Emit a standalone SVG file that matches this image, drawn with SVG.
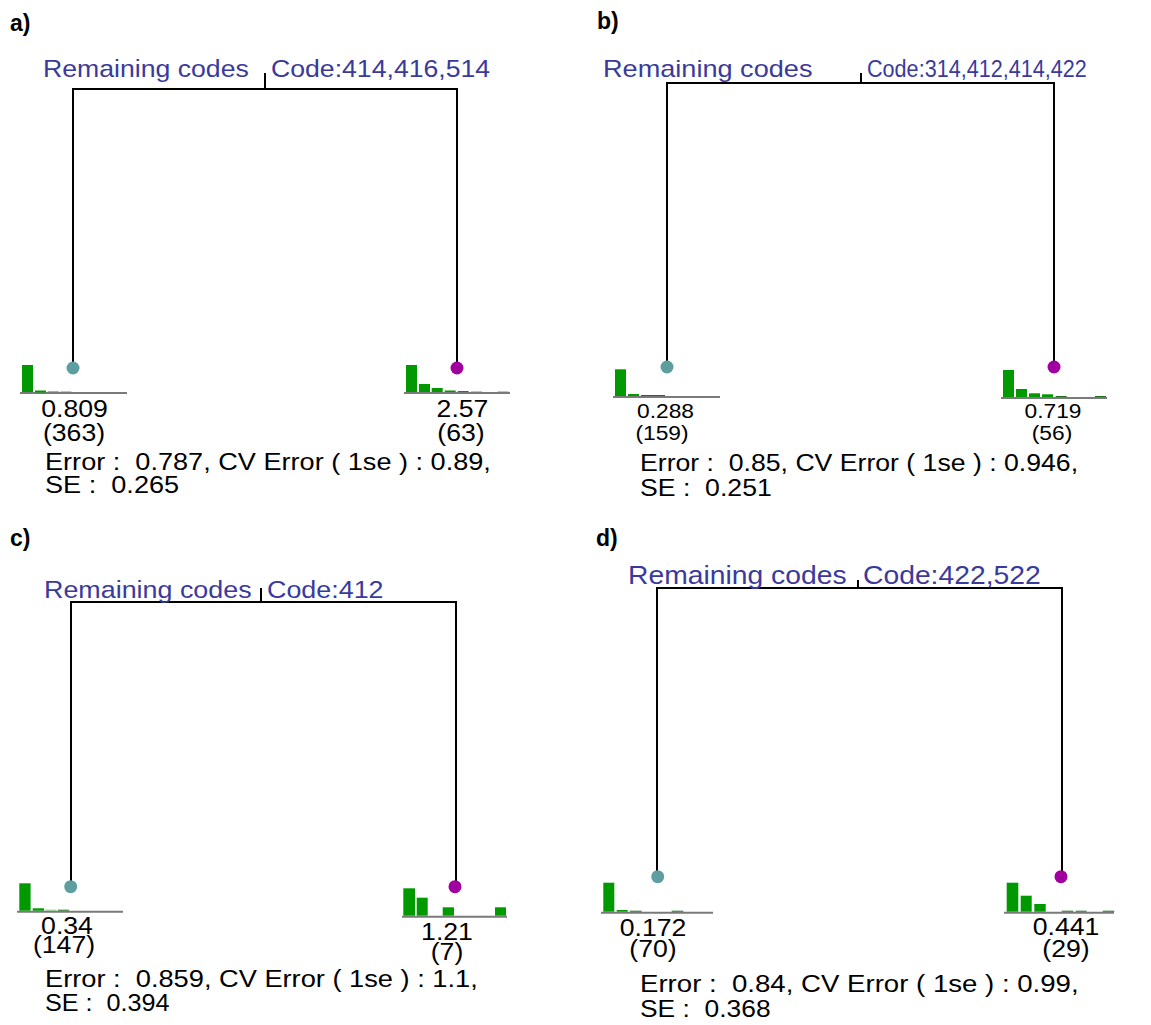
<svg xmlns="http://www.w3.org/2000/svg" width="1151" height="1025" viewBox="0 0 1151 1025">
  <style>
    .lbl { font-family: "Liberation Sans", Arial, sans-serif; font-size: 23px; font-weight: bold; fill: #000; }
    .split { font-family: "Liberation Sans", Arial, sans-serif; font-size: 24px; fill: #3a3a9c; }
    .split-lg { font-family: "Liberation Sans", Arial, sans-serif; font-size: 25.5px; fill: #3a3a9c; }
    .num { font-family: "Liberation Sans", Arial, sans-serif; font-size: 24px; fill: #000; text-anchor: middle; }
    .nums { font-family: "Liberation Sans", Arial, sans-serif; font-size: 20.5px; fill: #000; text-anchor: middle; }
    .err { font-family: "Liberation Sans", Arial, sans-serif; font-size: 24px; fill: #000; white-space: pre; }
    .edge { stroke: #000; stroke-width: 2; fill: none; }
    .axis { stroke: #7a7a7a; stroke-width: 2; }
    .bar { fill: #009900; }
    .bar-thin { fill: #80c880; }
    .bar-dark { fill: #1f6e1f; }
    .leaf-l { fill: #5f9ea0; }
    .leaf-r { fill: #a000a0; }
  </style>

  <!-- panel labels -->
  <text class="lbl" x="10" y="31">a)</text>
  <text class="lbl" x="597" y="29">b)</text>
  <text class="lbl" x="10" y="546">c)</text>
  <text class="lbl" x="596" y="546">d)</text>

  <!-- tree edges -->
  <g id="connectors">
    <path class="edge" d="M265,73 V89 M73,368 V89 H457 V368"/>
    <path class="edge" d="M861,73 V83 M667,367 V83 H1054 V367"/>
    <path class="edge" d="M261,588 V602 M71,886 V602 H456 V886"/>
    <path class="edge" d="M858,580 V588 M657,876 V588 H1062 V876"/>
  </g>

  <!-- panel a -->
  <g id="split-a">
    <text class="split" transform="translate(43,77) scale(1.11,1)">Remaining codes</text>
    <text class="split" transform="translate(271,77) scale(1.11,1)">Code:414,416,514</text>
  </g>
  <g id="leaf-a-left">
    <line class="axis" x1="20" y1="393" x2="127" y2="393"/>
    <rect class="bar" x="22" y="365" width="11" height="27"/>
    <rect class="bar" x="35" y="390.5" width="11" height="2"/>
    <rect class="bar-thin" x="47.7" y="391" width="11" height="1"/>
    <rect class="bar-thin" x="60.4" y="391.3" width="11" height="0.7"/>
    <circle class="leaf-l" cx="73" cy="368" r="6.5"/>
    <text class="num" transform="translate(74.5,417) scale(1.11,1)">0.809</text>
    <text class="num" transform="translate(74,441) scale(1.11,1)">(363)</text>
  </g>
  <g id="leaf-a-right">
    <line class="axis" x1="404" y1="393" x2="510" y2="393"/>
    <rect class="bar" x="406" y="365" width="11" height="27"/>
    <rect class="bar" x="419" y="384" width="11" height="8"/>
    <rect class="bar" x="431.7" y="388" width="11" height="4"/>
    <rect class="bar" x="444.7" y="390.5" width="11" height="1.5"/>
    <rect class="bar" x="457.7" y="391" width="11" height="1"/>
    <rect class="bar-thin" x="471" y="391.3" width="11" height="0.7"/>
    <rect class="bar-thin" x="497.7" y="391.3" width="11" height="0.7"/>
    <circle class="leaf-r" cx="457" cy="368" r="6.5"/>
    <text class="num" transform="translate(462.5,417) scale(1.11,1)">2.57</text>
    <text class="num" transform="translate(461,441) scale(1.11,1)">(63)</text>
  </g>
  <g id="stats-a">
    <text class="err" xml:space="preserve" transform="translate(45,470) scale(1.13,1)">Error :  0.787, CV Error ( 1se ) : 0.89,</text>
    <text class="err" xml:space="preserve" transform="translate(45,493) scale(1.13,1)">SE :  0.265</text>
  </g>

  <!-- panel b -->
  <g id="split-b">
    <text class="split" transform="translate(603,77) scale(1.13,1)">Remaining codes</text>
    <text class="split" transform="translate(867,77) scale(0.9,1)">Code:314,412,414,422</text>
  </g>
  <g id="leaf-b-left">
    <line class="axis" x1="613" y1="397" x2="720" y2="397"/>
    <rect class="bar" x="615" y="369.3" width="11" height="26.7"/>
    <rect class="bar" x="628" y="394" width="11" height="2"/>
    <rect class="bar-dark" x="641" y="395" width="12" height="1"/>
    <rect class="bar-dark" x="653" y="395" width="12" height="1"/>
    <circle class="leaf-l" cx="667" cy="367" r="6.5"/>
    <text class="nums" transform="translate(665.5,418) scale(1.11,1)">0.288</text>
    <text class="nums" transform="translate(662,440) scale(1.11,1)">(159)</text>
  </g>
  <g id="leaf-b-right">
    <line class="axis" x1="1001" y1="398" x2="1107" y2="398"/>
    <rect class="bar" x="1003" y="370" width="11" height="27"/>
    <rect class="bar" x="1016" y="389" width="11" height="8"/>
    <rect class="bar" x="1029" y="393.3" width="11" height="3.7"/>
    <rect class="bar" x="1042" y="394.3" width="11" height="2.7"/>
    <rect class="bar-dark" x="1055.7" y="396" width="11" height="1"/>
    <rect class="bar-dark" x="1095" y="396" width="11" height="1"/>
    <circle class="leaf-r" cx="1054" cy="367" r="6.5"/>
    <text class="nums" transform="translate(1053,418) scale(1.11,1)">0.719</text>
    <text class="nums" transform="translate(1052,440) scale(1.11,1)">(56)</text>
  </g>
  <g id="stats-b">
    <text class="err" xml:space="preserve" transform="translate(640,471) scale(1.11,1)">Error :  0.85, CV Error ( 1se ) : 0.946,</text>
    <text class="err" xml:space="preserve" transform="translate(640,496) scale(1.11,1)">SE :  0.251</text>
  </g>

  <!-- panel c -->
  <g id="split-c">
    <text class="split" transform="translate(44,598) scale(1.12,1)">Remaining codes</text>
    <text class="split" transform="translate(267,598) scale(1.12,1)">Code:412</text>
  </g>
  <g id="leaf-c-left">
    <line class="axis" x1="17" y1="911.7" x2="123" y2="911.7"/>
    <rect class="bar" x="19.3" y="883.3" width="11.3" height="27.4"/>
    <rect class="bar" x="32.7" y="908.3" width="11.3" height="2.4"/>
    <rect class="bar-thin" x="45" y="909.7" width="11.5" height="1"/>
    <rect class="bar-dark" x="58" y="909.7" width="11" height="1"/>
    <circle class="leaf-l" cx="70.7" cy="886.7" r="6.5"/>
    <text class="num" transform="translate(67,934) scale(1.11,1)">0.34</text>
    <text class="num" transform="translate(64,953) scale(1.11,1)">(147)</text>
  </g>
  <g id="leaf-c-right">
    <line class="axis" x1="402" y1="916.7" x2="507" y2="916.7"/>
    <rect class="bar" x="403.3" y="888.3" width="11.7" height="27.4"/>
    <rect class="bar" x="416.7" y="897.7" width="11" height="18"/>
    <rect class="bar" x="442.7" y="907.3" width="11.3" height="8.4"/>
    <rect class="bar" x="495" y="907.3" width="11" height="8.4"/>
    <circle class="leaf-r" cx="455" cy="886.7" r="6.5"/>
    <text class="num" transform="translate(447,940) scale(1.11,1)">1.21</text>
    <text class="num" transform="translate(447,960) scale(1.11,1)">(7)</text>
  </g>
  <g id="stats-c">
    <text class="err" xml:space="preserve" transform="translate(45,987) scale(1.135,1)">Error :  0.859, CV Error ( 1se ) : 1.1,</text>
    <text class="err" xml:space="preserve" transform="translate(45,1011) scale(1.05,1)">SE :  0.394</text>
  </g>

  <!-- panel d -->
  <g id="split-d">
    <text class="split-lg" transform="translate(628,584) scale(1.11,1)">Remaining codes</text>
    <text class="split-lg" transform="translate(863,584) scale(1.11,1)">Code:422,522</text>
  </g>
  <g id="leaf-d-left">
    <line class="axis" x1="601" y1="912.7" x2="713" y2="912.7"/>
    <rect class="bar" x="603.3" y="882.7" width="11" height="29"/>
    <rect class="bar" x="616.7" y="910" width="11" height="1.7"/>
    <rect class="bar-dark" x="630" y="910.7" width="11.7" height="1"/>
    <rect class="bar-dark" x="671.7" y="910.7" width="11.6" height="1"/>
    <circle class="leaf-l" cx="657.7" cy="876.7" r="6.5"/>
    <text class="num" transform="translate(653,936) scale(1.11,1)">0.172</text>
    <text class="num" transform="translate(653,957) scale(1.11,1)">(70)</text>
  </g>
  <g id="leaf-d-right">
    <line class="axis" x1="1004" y1="912.7" x2="1114" y2="912.7"/>
    <rect class="bar" x="1006.7" y="882.7" width="11.6" height="29"/>
    <rect class="bar" x="1020.7" y="895.7" width="11" height="16"/>
    <rect class="bar" x="1034.3" y="904" width="11.4" height="7.7"/>
    <rect class="bar-dark" x="1061.7" y="910.7" width="11.6" height="1"/>
    <rect class="bar-dark" x="1075.7" y="910.7" width="11" height="1"/>
    <rect class="bar-dark" x="1102.7" y="910.7" width="11.6" height="1"/>
    <circle class="leaf-r" cx="1061" cy="876.7" r="6.5"/>
    <text class="num" transform="translate(1066,935) scale(1.11,1)">0.441</text>
    <text class="num" transform="translate(1066,957) scale(1.11,1)">(29)</text>
  </g>
  <g id="stats-d">
    <text class="err" xml:space="preserve" transform="translate(640,992) scale(1.15,1)">Error :  0.84, CV Error ( 1se ) : 0.99,</text>
    <text class="err" xml:space="preserve" transform="translate(640,1017) scale(1.1,1)">SE :  0.368</text>
  </g>
</svg>
